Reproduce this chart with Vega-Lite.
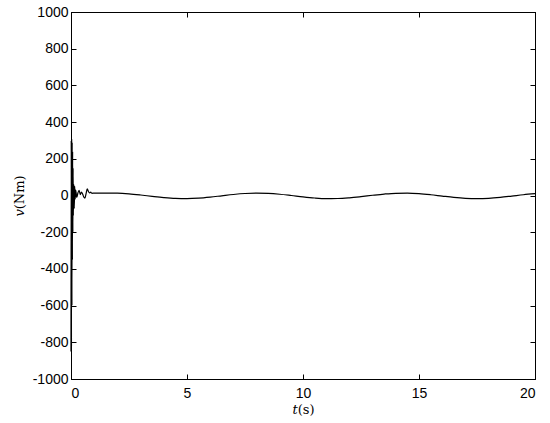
{
  "$schema": "https://vega.github.io/schema/vega-lite/v6.json",
  "width": 464,
  "height": 367,
  "autosize": "none",
  "padding": {"left": 71, "top": 12, "right": 15, "bottom": 44},
  "background": "white",
  "config": {
    "view": {"stroke": "black", "strokeWidth": 1},
    "axis": {
      "grid": false,
      "domainColor": "black",
      "tickColor": "black",
      "labelColor": "black",
      "titleColor": "black",
      "labelFont": "Liberation Sans",
      "labelFontSize": 14,
      "tickSize": -5,
      "titleFont": "DejaVu Serif",
      "titleFontSize": 13,
      "titleFontWeight": "normal",
      "format": "d",
      "labelExpr": "replace(datum.label, '\u2212', '-')"
    }
  },
  "data": {
    "values": [
      {"t": 0.0, "v": -850}, {"t": 0.01, "v": 300}, {"t": 0.02, "v": -820}, {"t": 0.03, "v": 310},
      {"t": 0.04, "v": -600}, {"t": 0.05, "v": 290}, {"t": 0.06, "v": -350}, {"t": 0.07, "v": 240},
      {"t": 0.08, "v": -200}, {"t": 0.09, "v": 150}, {"t": 0.10, "v": -110}, {"t": 0.12, "v": 60},
      {"t": 0.14, "v": -70}, {"t": 0.16, "v": 50}, {"t": 0.18, "v": -20}, {"t": 0.20, "v": 30},
      {"t": 0.25, "v": -10}, {"t": 0.3, "v": 15}, {"t": 0.35, "v": 28}, {"t": 0.4, "v": 5},
      {"t": 0.45, "v": 18}, {"t": 0.5, "v": 8}, {"t": 0.55, "v": -8}, {"t": 0.6, "v": -14},
      {"t": 0.65, "v": 10}, {"t": 0.7, "v": 36}, {"t": 0.75, "v": 22}, {"t": 0.8, "v": 14},
      {"t": 0.85, "v": 18}, {"t": 0.9, "v": 12}, {"t": 1.0, "v": 13}, {"t": 1.5, "v": 13},
      {"t": 2.0, "v": 12.5}, {"t": 2.5, "v": 9}, {"t": 3.0, "v": 2.8}, {"t": 3.5, "v": -4.6},
      {"t": 4.0, "v": -11.3}, {"t": 4.5, "v": -15.8}, {"t": 5.0, "v": -16.9}, {"t": 5.5, "v": -14.4},
      {"t": 6.0, "v": -8.8}, {"t": 6.5, "v": -1.6}, {"t": 7.0, "v": 5.5}, {"t": 7.5, "v": 10.8},
      {"t": 8.0, "v": 13}, {"t": 8.5, "v": 11.5}, {"t": 9.0, "v": 6.8}, {"t": 9.5, "v": -0.1},
      {"t": 10.0, "v": -7.5}, {"t": 10.5, "v": -13.5}, {"t": 11.0, "v": -16.7}, {"t": 11.5, "v": -16.3},
      {"t": 12.0, "v": -12.5}, {"t": 12.5, "v": -6.1}, {"t": 13.0, "v": 1.3}, {"t": 13.5, "v": 7.9},
      {"t": 14.0, "v": 12.1}, {"t": 14.5, "v": 12.8}, {"t": 15.0, "v": 10}, {"t": 15.5, "v": 4.2},
      {"t": 16.0, "v": -3.1}, {"t": 16.5, "v": -10.1}, {"t": 17.0, "v": -15.2}, {"t": 17.5, "v": -17},
      {"t": 18.0, "v": -15.2}, {"t": 18.5, "v": -10.1}, {"t": 19.0, "v": -3.1}, {"t": 19.5, "v": 4.2},
      {"t": 20.0, "v": 10}
    ]
  },
  "layer": [
    {
      "mark": {"type": "line", "color": "black", "strokeWidth": 1.2, "interpolate": "monotone"},
      "encoding": {
        "x": {"field": "t", "type": "quantitative", "scale": {"domain": [0, 20], "nice": false, "zero": false},
              "axis": {"orient": "bottom", "values": [0, 5, 10, 15, 20], "title": "𝑡(s)", "titlePadding": 3, "labelPadding": 12}},
        "y": {"field": "v", "type": "quantitative", "scale": {"domain": [-1000, 1000], "nice": false},
              "axis": {"orient": "left", "values": [-1000, -800, -600, -400, -200, 0, 200, 400, 600, 800, 1000], "title": "𝑣(Nm)", "titlePadding": 6, "labelPadding": 8}}
      }
    },
    {
      "mark": {"type": "line", "opacity": 0},
      "encoding": {
        "x": {"field": "t", "type": "quantitative", "scale": {"domain": [0, 20], "nice": false, "zero": false},
              "axis": {"orient": "top", "values": [0, 5, 10, 15, 20], "labels": false, "title": null}},
        "y": {"field": "v", "type": "quantitative", "scale": {"domain": [-1000, 1000], "nice": false},
              "axis": {"orient": "right", "values": [-1000, -800, -600, -400, -200, 0, 200, 400, 600, 800, 1000], "labels": false, "title": null}}
      }
    }
  ],
  "resolve": {"axis": {"x": "independent", "y": "independent"}}
}
